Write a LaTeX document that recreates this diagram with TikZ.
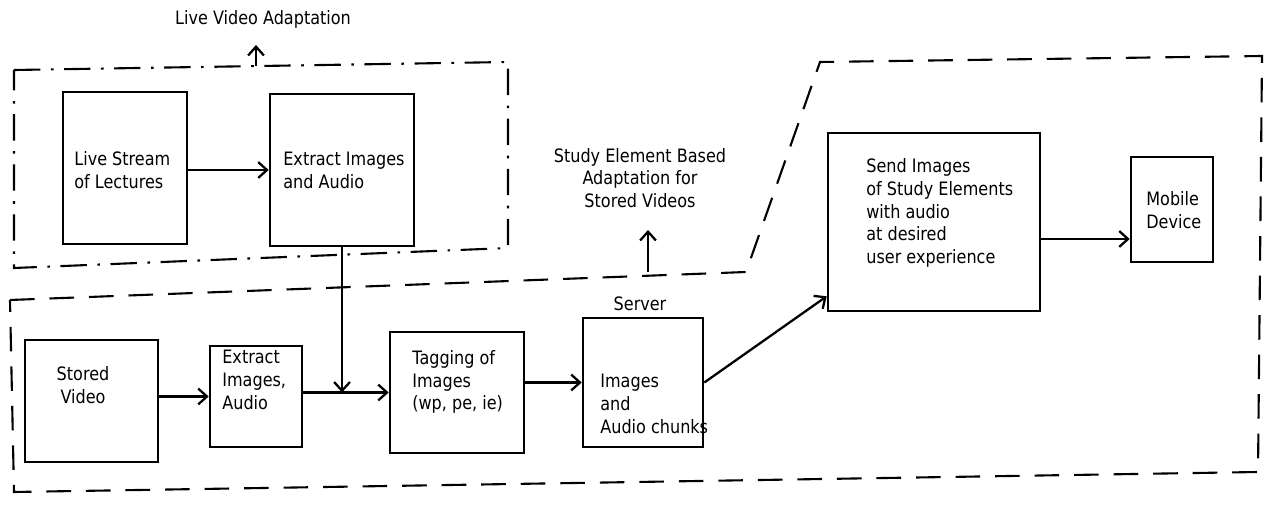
\documentclass[tikz,border=0pt]{standalone}
\usepackage{fontspec}
\setmainfont{DejaVu Sans}[FakeStretch=0.87]
\usetikzlibrary{arrows.meta}
\begin{document}
\begin{tikzpicture}[x=0.02cm, y=-0.02cm,
  font=\fontsize{10.5}{13}\selectfont,
  box/.style={draw, line width=1.5pt, inner sep=0pt},
  txt/.style={inner sep=0pt, align=left},
  arr/.style={-{Straight Barb[length=5pt, width=9pt]}, line width=1.3pt},
  frame/.style={line width=1.2pt, dash pattern=on 14pt off 8.5pt},
  liveframe/.style={line width=1.2pt, dash pattern=on 15pt off 6pt on 1.5pt off 6pt}]
\useasboundingbox (0,0) rectangle (1273,519);
% frames
\draw[liveframe] (14,70) -- (508,62) -- (508,248) -- (14,268) -- cycle;
\draw[frame] (10,300) -- (746,272) -- (820,62) -- (1262,56) -- (1258,472) -- (14,492) -- cycle;
% live video part
\node[box, minimum width=2.48cm, minimum height=3.04cm] (lstream) at (125,168) {};
\node[box, minimum width=2.88cm, minimum height=3.04cm] (ext1) at (342,170) {};
\node[txt, anchor=west] (lstreamtxt) at (74,170) {Live Stream\\of Lectures};
\node[txt, anchor=west] (ext1txt) at (283,170) {Extract Images\\and Audio};
\node[txt] (livetitle) at (263,19) {Live Video Adaptation};
\coordinate (livetop) at (256,66);
% stored video part
\node[box, minimum width=2.66cm, minimum height=2.44cm] (stored) at (91.5,401) {};
\node[box, minimum width=1.84cm, minimum height=2.02cm] (ext2) at (256,396.5) {};
\node[box, minimum width=2.68cm, minimum height=2.42cm] (tag) at (457,392.5) {};
\node[box, minimum width=2.40cm, minimum height=2.58cm] (srv) at (643,382.5) {};
\node[box, minimum width=4.24cm, minimum height=3.56cm] (send) at (934,222) {};
\node[box, minimum width=1.64cm, minimum height=2.10cm] (mobile) at (1172,209.5) {};
\node[txt, align=center] (storedtxt) at (83,385) {Stored\\Video};
\node[txt, anchor=west] (ext2txt) at (222,380) {Extract\\Images,\\Audio};
\node[txt, anchor=west] (tagtxt) at (412,382) {Tagging of\\Images\\(wp, pe, ie)};
\node[txt, anchor=west] (srvtxt) at (600,404) {Images\\and\\Audio chunks};
\node[txt] (srvtitle) at (640,304) {Server};
\node[txt, anchor=west] (sendtxt) at (866,213) {Send Images\\of Study Elements\\with audio\\at desired\\user experience};
\node[txt, anchor=west] (mobiletxt) at (1146,210) {Mobile\\Device};
\node[txt, align=center] (storedtitle) at (640,178) {Study Element Based\\Adaptation for\\Stored Videos};
\coordinate (storedtop) at (648,272);
\coordinate (mobilein) at ([yshift=-0.59cm]mobile.west);
% connectors
\draw[arr] (lstream.east |- ext1) -- (ext1.west);
\draw[arr] (livetop) -- ++(0,-21);
\draw[arr] (ext1.south) -- (ext1.south |- tag);
\draw[arr] (stored.east |- ext2) -- (ext2.west);
\draw[arr] (ext2.east |- tag) -- (tag.west);
\draw[arr] (tag.east |- srv) -- (srv.west);
\draw[arr] (srv.east) -- ([yshift=0.32cm]send.south west);
\draw[arr] (send.east |- mobilein) -- (mobilein);
\draw[arr] (storedtop) -- ++(0,-42);
\end{tikzpicture}
\end{document}
